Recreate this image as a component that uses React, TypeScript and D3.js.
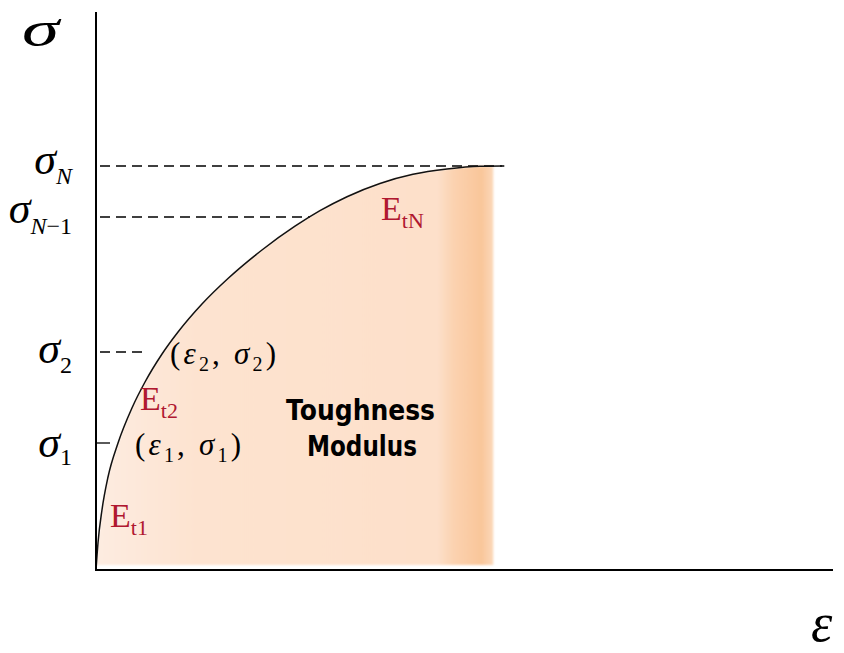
import React from "react";
import * as d3 from "d3";

// Stress–strain curve (strain and stress as % of each axis span)
const strain = [0, 0.27, 0.81, 1.63, 2.99, 4.88, 6.65, 8.96, 11.13, 14.38, 17.91, 22.52, 27.0, 30.39, 34.06, 38.53, 43.01, 47.63, 52.1, 55.09];
const stress = [0, 4.84, 10.75, 16.67, 22.76, 29.03, 33.69, 38.71, 42.65, 47.67, 52.24, 57.35, 61.61, 64.39, 66.9, 69.27, 70.91, 71.86, 72.35, 72.4];

// Marked stress levels and the strain where each meets the curve
const levelNames = ["N", "N−1", "2", "1"];
const levelStress = [72.4, 63.26, 39.07, 22.76];
const levelStrain = [55.4, 29.0, 7.06, 1.9];

// End of the shaded toughness region (strain)
const shadeEnd = 53.9;

const W = 844;
const H = 653;
const x = d3.scaleLinear().domain([0, 100]).range([96, 833]);
const y = d3.scaleLinear().domain([0, 100]).range([570, 12]);

const serif = "'Liberation Serif', 'Times New Roman', serif";
const red = "#b01830";

// baseline offset of each level label below its line, and subscript drop
const labelDy = [8, 6, 11, 14];
const subDy = [10, 11, 10, 8];

export default function App() {
  const pts = strain.map((s, i) => [s, stress[i]] as [number, number]);
  const line = d3
    .line<[number, number]>()
    .x((d) => x(d[0]))
    .y((d) => y(d[1]))
    .curve(d3.curveMonotoneX);

  // stress on the curve at a given strain (linear between samples)
  const interp = (s: number) => {
    for (let i = 1; i < strain.length; i++) {
      if (s <= strain[i]) {
        const t = (s - strain[i - 1]) / (strain[i] - strain[i - 1]);
        return stress[i - 1] + t * (stress[i] - stress[i - 1]);
      }
    }
    return stress[stress.length - 1];
  };
  const shadePts: [number, number][] = pts.filter((p) => p[0] < shadeEnd);
  shadePts.push([shadeEnd, interp(shadeEnd)]);
  const area = d3
    .area<[number, number]>()
    .x((d) => x(d[0]))
    .y0(y(0.9))
    .y1((d) => y(d[1]))
    .curve(d3.curveMonotoneX);

  const pointLabel = (i: string, px: number, py: number) => (
    <text x={px} y={py} fontFamily={serif} fontSize={31} textLength={106} lengthAdjust="spacing">
      (<tspan fontStyle="italic">ε</tspan>
      <tspan fontSize={20} dy={7}>{i}</tspan>
      <tspan dy={-7}>, </tspan>
      <tspan fontStyle="italic">σ</tspan>
      <tspan fontSize={20} dy={7}>{i}</tspan>
      <tspan dy={-7}>)</tspan>
    </text>
  );

  return (
    <svg
      width={W}
      height={H}
      style={{ position: "absolute", left: 0, top: 0, background: "#fff" }}
    >
      <defs>
        <linearGradient
          id="tough"
          gradientUnits="userSpaceOnUse"
          x1={x(0)}
          x2={x(shadeEnd)}
          y1={0}
          y2={0}
        >
          <stop offset="0" stopColor="#fdece1" />
          <stop offset="0.25" stopColor="#fde3d0" />
          <stop offset="0.86" stopColor="#fde0ca" />
          <stop offset="0.9" stopColor="#fbd2b0" />
          <stop offset="0.97" stopColor="#f9c69a" />
          <stop offset="1" stopColor="#fbd8ba" />
        </linearGradient>
        <filter id="soft" x="-5%" y="-5%" width="110%" height="110%">
          <feGaussianBlur stdDeviation="1.2" />
        </filter>
      </defs>

      {/* toughness area */}
      <path d={area(shadePts) ?? ""} fill="url(#tough)" filter="url(#soft)" />

      {/* level lines: dashed for upper levels, short tick for the first */}
      {levelStress.map((v, i) =>
        i === 3 ? (
          <line
            key={i}
            x1={x(0)}
            x2={x(levelStrain[i])}
            y1={y(v)}
            y2={y(v)}
            stroke="#000"
            strokeWidth={1.3}
          />
        ) : (
          <line
            key={i}
            x1={x(0) + 4}
            x2={x(levelStrain[i])}
            y1={y(v)}
            y2={y(v)}
            stroke="#000"
            strokeWidth={1.5}
            strokeDasharray="10,6"
          />
        )
      )}

      {/* curve */}
      <path d={line(pts) ?? ""} fill="none" stroke="#111" strokeWidth={1.5} />

      {/* axes */}
      <line x1={x(0)} x2={x(0)} y1={y(100)} y2={y(0) + 1} stroke="#000" strokeWidth={2} />
      <line x1={x(0)} x2={x(100)} y1={y(0)} y2={y(0)} stroke="#000" strokeWidth={2} />

      {/* axis symbols */}
      <text
        x={22}
        y={46}
        fontFamily={serif}
        fontStyle="italic"
        fontSize={51}
        textLength={37}
        lengthAdjust="spacingAndGlyphs"
      >
        σ
      </text>
      <text x={811} y={641} fontFamily={serif} fontStyle="italic" fontSize={54}>
        ε
      </text>

      {/* level labels */}
      {levelNames.map((n, i) => {
        const parts = n.split("−");
        return (
          <text
            key={n}
            x={72}
            y={y(levelStress[i]) + labelDy[i]}
            textAnchor="end"
            fontFamily={serif}
            fontSize={44}
          >
            <tspan fontStyle="italic">σ</tspan>
            {parts[0] === "N" ? (
              <tspan fontSize={24} dy={subDy[i]} fontStyle="italic">
                N
              </tspan>
            ) : (
              <tspan fontSize={24} dy={subDy[i]}>
                {parts[0]}
              </tspan>
            )}
            {parts.length > 1 ? <tspan fontSize={24}>{"−" + parts[1]}</tspan> : null}
          </text>
        );
      })}

      {/* point labels */}
      {pointLabel("2", 170, 364)}
      {pointLabel("1", 135, 455)}

      {/* tangent modulus labels */}
      {[
        { t: "t1", px: 110, py: 527 },
        { t: "t2", px: 140, py: 410 },
        { t: "tN", px: 381, py: 220 },
      ].map((d) => (
        <text key={d.t} x={d.px} y={d.py} fontFamily={serif} fontSize={34} fill={red}>
          E
          <tspan fontSize={22} dy={8}>
            {d.t}
          </tspan>
        </text>
      ))}

      {/* area label */}
      <g fontFamily="'DejaVu Sans', 'Liberation Sans', sans-serif" fontWeight="bold" fontSize={28}>
        <text x={286} y={420} textLength={149} lengthAdjust="spacingAndGlyphs">
          Toughness
        </text>
        <text x={307} y={456} textLength={110} lengthAdjust="spacingAndGlyphs">
          Modulus
        </text>
      </g>
    </svg>
  );
}
